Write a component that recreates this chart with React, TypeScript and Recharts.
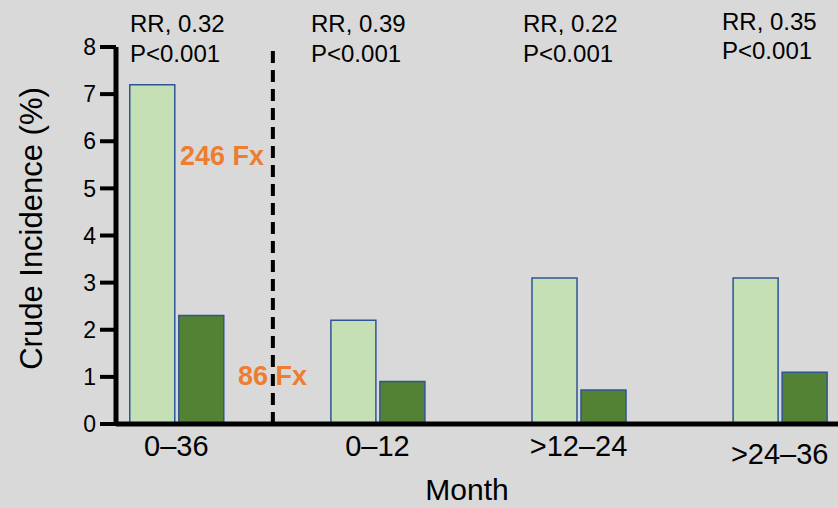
import { BarChart, Bar, XAxis, YAxis, ReferenceLine, Customized } from 'recharts';

const categories = ['0–36', '0–12', '>12–24', '>24–36'];
const lightValues = [7.2, 2.2, 3.1, 3.1];
const darkValues = [2.3, 0.9, 0.72, 1.1];
const rrLabels = ['RR, 0.32', 'RR, 0.39', 'RR, 0.22', 'RR, 0.35'];
const pLabels = ['P<0.001', 'P<0.001', 'P<0.001', 'P<0.001'];
const yTicks = [0, 1, 2, 3, 4, 5, 6, 7, 8];

const data = categories.map((c, i) => ({ idx: i, name: c, light: lightValues[i], dark: darkValues[i] }));

const FONT = '"Liberation Sans", Arial, sans-serif';
const annX = [130, 311, 523, 722];
const annY = [32, 62, 32, 62, 32, 62, 30, 59];

function Annotations() {
  return (
    <g fontFamily={FONT}>
      {rrLabels.map((t, i) => (
        <g key={i}>
          <text x={annX[i]} y={annY[i * 2]} fontSize={24} fill="#000">{t}</text>
          <text x={annX[i]} y={annY[i * 2 + 1]} fontSize={24} fill="#000">{pLabels[i]}</text>
        </g>
      ))}
      <text x={180} y={165} fontSize={27} fontWeight="bold" fill="#ed7d31">246 Fx</text>
      <text x={238} y={385} fontSize={27} fontWeight="bold" fill="#ed7d31">86 Fx</text>
    </g>
  );
}

function XTick(props: any) {
  const { x, y, payload } = props;
  const shift = payload.value === 3 ? 8 : 0;
  return (
    <text x={x} y={y + shift} dy="0.71em" textAnchor="middle" fontSize={29} fontFamily={FONT} fill="#000">
      {categories[payload.value]}
    </text>
  );
}

export default function App() {
  return (
    <div style={{ position: 'absolute', left: 0, top: 0, width: 838, height: 508, background: '#d9d9d9' }}>
      <BarChart
        width={838}
        height={508}
        data={data}
        margin={{ top: 47, right: 0, bottom: 0, left: 0 }}
        barGap={4}
      >
        <XAxis
          dataKey="idx"
          type="number"
          domain={[-0.3, 3.29]}
          ticks={[0, 1, 2, 3]}
          allowDataOverflow
          height={84}
          axisLine={{ stroke: '#000', strokeWidth: 5 }}
          tickLine={false}
          tickSize={0}
          tickMargin={11}
          tick={<XTick />}
          label={(props: any) => {
            const vb = props.viewBox;
            return (
              <text x={vb.x + vb.width / 2 - 10} y={vb.y + 76} textAnchor="middle" fontSize={30} fontFamily={FONT} fill="#000">
                Month
              </text>
            );
          }}
        />
        <YAxis
          type="number"
          domain={[0, 8]}
          ticks={yTicks}
          width={116}
          axisLine={{ stroke: '#000', strokeWidth: 5 }}
          tickLine={{ stroke: '#000', strokeWidth: 4 }}
          tickSize={16}
          tickMargin={4}
          tick={{ fill: '#000', fontSize: 23, fontFamily: FONT }}
          label={(props: any) => {
            const vb = props.viewBox;
            const cx = vb.x + 31;
            const cy = vb.y + vb.height / 2 - 7;
            return (
              <text x={cx} y={cy} transform={`rotate(-90 ${cx} ${cy})`} textAnchor="middle" dominantBaseline="central" fontSize={31} fontFamily={FONT} fill="#000">
                Crude Incidence (%)
              </text>
            );
          }}
        />
        <ReferenceLine x={0.48} stroke="#000" strokeWidth={4} strokeDasharray="12 7" />
        <Bar dataKey="light" name="Light" fill="#c5e0b4" stroke="#2f5597" strokeWidth={1.5} barSize={45} isAnimationActive={false} />
        <Bar dataKey="dark" name="Dark" fill="#548235" stroke="#2f5597" strokeWidth={1.5} barSize={45} isAnimationActive={false} />
        <Customized component={Annotations} />
      </BarChart>
    </div>
  );
}
